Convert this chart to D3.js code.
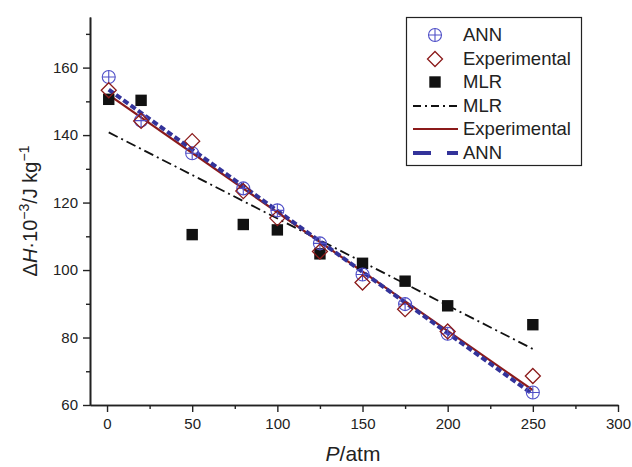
<!DOCTYPE html>
<html><head><meta charset="utf-8">
<script src="https://cdn.jsdelivr.net/npm/d3@7"></script>
<style>body{margin:0;background:#fff}svg{display:block;font-family:"Liberation Sans",Arial,sans-serif}</style>
</head><body><svg id="c" width="632" height="467"></svg>
<script>
const pressure = [1, 20, 50, 80, 100, 125, 150, 175, 200, 250];
const annValues = [157.2, 144.3, 134.6, 124.2, 117.7, 107.9, 98.7, 89.9, 81.1, 63.7];
const expValues = [153.3, 144.2, 138.2, 123.4, 115.4, 105.5, 96.3, 88.4, 81.8, 68.6];
const mlrValues = [150.6, 150.3, 110.5, 113.5, 111.9, 104.8, 102.0, 96.7, 89.4, 83.8];
const fitP = [1, 250];
const mlrFit = [140.8, 76.6];
const expFit = [151.9, 64.4];
const annFit = [153.5, 63.2];
const xTicks = [0, 50, 100, 150, 200, 250, 300];
const xMinor = [25, 75, 125, 175, 225, 275];
const yTicks = [60, 80, 100, 120, 140, 160];
const yMinor = [70, 90, 110, 130, 150, 170];
const legendLabels = ["ANN", "Experimental", "MLR", "MLR", "Experimental", "ANN"];

const C = {ann: "#5050c8", annLine: "#33339a", exp: "#8b1a1a", mlr: "#111"};
const svg = d3.select("#c");
const L = 90, R = 618, T = 17, B = 405;
const x = d3.scaleLinear().domain([-10, 300]).range([L, R]);
const y = d3.scaleLinear().domain([60, 175]).range([B, T]);

// axes
const xAx = svg.append("g").attr("transform", `translate(0,${B})`)
  .call(d3.axisBottom(x).tickValues(xTicks).tickSize(7).tickPadding(6).tickSizeOuter(0));
const xAxm = svg.append("g").attr("transform", `translate(0,${B})`)
  .call(d3.axisBottom(x).tickValues(xMinor).tickSize(4).tickFormat("").tickSizeOuter(0));
const yAx = svg.append("g").attr("transform", `translate(${L},0)`)
  .call(d3.axisLeft(y).tickValues(yTicks).tickSize(7).tickPadding(5).tickSizeOuter(0));
const yAxm = svg.append("g").attr("transform", `translate(${L},0)`)
  .call(d3.axisLeft(y).tickValues(yMinor).tickSize(4).tickFormat("").tickSizeOuter(0));
[xAx, xAxm, yAx, yAxm].forEach(g => {
  g.select(".domain").attr("stroke", "#222").attr("stroke-width", 1.6);
  g.selectAll(".tick line").attr("stroke", "#222").attr("stroke-width", 1.4);
  g.selectAll("text").attr("fill", "#222").style("font-size", "15px").style("font-family", '"Liberation Sans",Arial,sans-serif');
});

// labels
svg.append("text").attr("x", 353).attr("y", 461).attr("text-anchor", "middle")
  .style("font-size", "21px").attr("fill", "#222")
  .html('<tspan font-style="italic">P</tspan>/atm');
svg.append("text").attr("transform", "translate(37,211) rotate(-90)").attr("text-anchor", "middle")
  .style("font-size", "20px").attr("fill", "#222")
  .html('Δ<tspan font-style="italic">H</tspan>·10<tspan dy="-8" font-size="14px">−3</tspan><tspan dy="8">/J kg</tspan><tspan dy="-8" font-size="14px">−1</tspan>');

// fit lines
const line = d3.line().x(d => x(d[0])).y(d => y(d[1]));
svg.append("path").attr("d", line(fitP.map((p, i) => [p, mlrFit[i]])))
  .attr("fill", "none").attr("stroke", C.mlr).attr("stroke-width", 1.8).attr("stroke-dasharray", "10,4,2,4");
svg.append("path").attr("d", line(fitP.map((p, i) => [p, expFit[i]])))
  .attr("fill", "none").attr("stroke", C.exp).attr("stroke-width", 2.2);
svg.append("path").attr("d", line(fitP.map((p, i) => [p, annFit[i]])))
  .attr("fill", "none").attr("stroke", C.annLine).attr("stroke-width", 4).attr("stroke-dasharray", "6,3");

// markers
function annMark(g, cx, cy) {
  g.append("circle").attr("cx", cx).attr("cy", cy).attr("r", 6.5).attr("fill", "none").attr("stroke", C.ann).attr("stroke-width", 1.1);
  g.append("path").attr("d", `M${cx - 6.5},${cy}H${cx + 6.5}M${cx},${cy - 6.5}V${cy + 6.5}`).attr("stroke", C.ann).attr("stroke-width", 1.1);
}
function expMark(g, cx, cy) {
  const s = 7.5;
  g.append("path").attr("d", `M${cx},${cy - s}L${cx + s},${cy}L${cx},${cy + s}L${cx - s},${cy}Z`)
    .attr("fill", "none").attr("stroke", C.exp).attr("stroke-width", 1.3);
}
function mlrMark(g, cx, cy) {
  g.append("rect").attr("x", cx - 5.7).attr("y", cy - 5.7).attr("width", 11.4).attr("height", 11.4).attr("fill", C.mlr);
}
const gm = svg.append("g");
pressure.forEach((p, i) => mlrMark(gm, x(p), y(mlrValues[i])));
pressure.forEach((p, i) => annMark(gm, x(p), y(annValues[i])));
pressure.forEach((p, i) => expMark(gm, x(p), y(expValues[i])));

// legend
const lg = svg.append("g");
lg.append("rect").attr("x", 406.5).attr("y", 17.5).attr("width", 175).attr("height", 148)
  .attr("fill", "#fff").attr("stroke", "#222").attr("stroke-width", 1.2);
const rows = [35, 59, 82, 106, 129, 153];
annMark(lg, 435, rows[0]);
expMark(lg, 435, rows[1]);
mlrMark(lg, 435, rows[2]);
lg.append("line").attr("x1", 413).attr("x2", 458).attr("y1", rows[3]).attr("y2", rows[3])
  .attr("stroke", C.mlr).attr("stroke-width", 1.8).attr("stroke-dasharray", "8,4,2,4");
lg.append("line").attr("x1", 413).attr("x2", 458).attr("y1", rows[4]).attr("y2", rows[4])
  .attr("stroke", C.exp).attr("stroke-width", 2.2);
lg.append("line").attr("x1", 413).attr("x2", 458).attr("y1", rows[5]).attr("y2", rows[5])
  .attr("stroke", C.annLine).attr("stroke-width", 4).attr("stroke-dasharray", "18,16");
legendLabels.forEach((t, i) => lg.append("text").attr("x", 463).attr("y", rows[i]).attr("dy", "0.35em")
  .style("font-size", "18.5px").attr("fill", "#222").text(t));
</script></body></html>
